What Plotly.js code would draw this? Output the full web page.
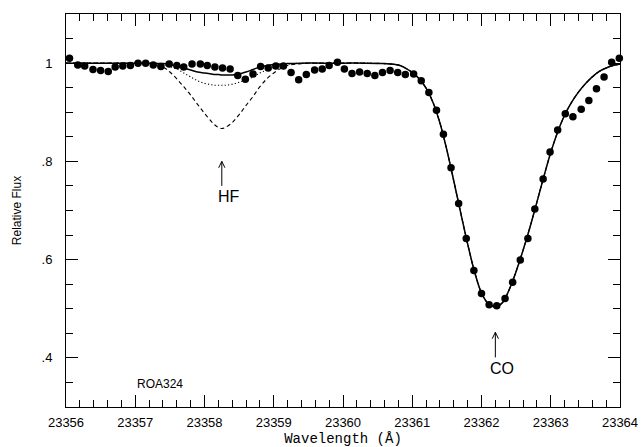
<!DOCTYPE html>
<html>
<head>
<meta charset="utf-8">
<script src="https://cdn.plot.ly/plotly-3.0.1.min.js"></script>
<style>html,body{margin:0;padding:0;background:#fff;}#chart{width:641px;height:447px;}</style>
</head>
<body>
<div id="chart"></div>
<script>
// Observed spectrum (dots)
const dotX = [23356.05, 23356.17, 23356.27, 23356.39, 23356.50, 23356.61, 23356.71, 23356.82, 23356.93, 23357.04,
  23357.15, 23357.26, 23357.37, 23357.49, 23357.60, 23357.70, 23357.82, 23357.94, 23358.04, 23358.15,
  23358.26, 23358.37, 23358.48, 23358.59, 23358.70, 23358.81, 23358.92, 23359.03, 23359.14, 23359.25,
  23359.36, 23359.47, 23359.59, 23359.70, 23359.80, 23359.92, 23360.02, 23360.13, 23360.24, 23360.35,
  23360.46, 23360.57, 23360.68, 23360.79, 23360.90, 23361.02, 23361.13, 23361.24, 23361.35, 23361.45,
  23361.56, 23361.67, 23361.78, 23361.89, 23362.00, 23362.11, 23362.22, 23362.34, 23362.45, 23362.56,
  23362.67, 23362.77, 23362.89, 23362.99, 23363.10, 23363.21, 23363.32, 23363.44, 23363.55, 23363.66,
  23363.77, 23363.88, 23363.99];
const dotY = [1.010, 0.996, 0.994, 0.987, 0.985, 0.983, 0.992, 0.994, 0.995, 1.000,
  1.000, 0.996, 0.993, 0.998, 0.995, 0.992, 0.998, 0.998, 0.995, 0.992,
  0.990, 0.988, 0.975, 0.967, 0.978, 0.993, 0.990, 0.994, 0.994, 0.981,
  0.966, 0.977, 0.986, 0.988, 0.995, 1.002, 0.988, 0.979, 0.982, 0.979,
  0.975, 0.981, 0.985, 0.981, 0.977, 0.978, 0.964, 0.940, 0.904, 0.855,
  0.787, 0.714, 0.643, 0.578, 0.531, 0.508, 0.506, 0.521, 0.554, 0.599,
  0.643, 0.703, 0.764, 0.819, 0.864, 0.897, 0.891, 0.906, 0.924, 0.948,
  0.972, 1.002, 1.010];

// Synthetic spectra, HF region (three HF abundances)
const hfX = [23356.0, 23356.5, 23357.0, 23357.2, 23357.4, 23357.5, 23357.6, 23357.7, 23357.8, 23357.9,
  23358.0, 23358.1, 23358.15, 23358.2, 23358.25, 23358.3, 23358.4, 23358.5, 23358.6, 23358.7,
  23358.8, 23358.9, 23359.0, 23359.1, 23359.2, 23359.4, 23359.7, 23360.0, 23360.3];
const hfSolid  = [1.000, 1.000, 1.000, 1.000, 0.999, 0.997, 0.994, 0.990, 0.986, 0.982,
  0.980, 0.978, 0.977, 0.977, 0.976, 0.976, 0.976, 0.978, 0.982, 0.987,
  0.992, 0.995, 0.997, 0.998, 0.999, 1.000, 1.000, 1.000, 1.000];
const hfDotted = [1.000, 1.000, 1.000, 0.999, 0.997, 0.993, 0.988, 0.980, 0.972, 0.964,
  0.959, 0.956, 0.955, 0.955, 0.955, 0.955, 0.957, 0.961, 0.966, 0.972,
  0.980, 0.986, 0.991, 0.995, 0.998, 1.000, 1.000, 1.000, 1.000];
const hfDashed = [1.000, 1.000, 1.000, 0.999, 0.992, 0.982, 0.968, 0.952, 0.935, 0.916,
  0.898, 0.881, 0.874, 0.869, 0.867, 0.869, 0.879, 0.895, 0.914, 0.932,
  0.952, 0.968, 0.980, 0.989, 0.995, 0.999, 1.000, 1.000, 1.000];

// Synthetic spectrum, CO region (shared by all three)
const coX = [23360.6, 23360.8, 23360.9, 23361.0, 23361.1, 23361.2, 23361.3, 23361.4, 23361.5, 23361.6,
  23361.7, 23361.8, 23361.9, 23362.0, 23362.1, 23362.2, 23362.3, 23362.4, 23362.5, 23362.6,
  23362.7, 23362.8, 23362.9, 23363.0, 23363.1, 23363.2, 23363.3, 23363.4, 23363.5, 23363.6,
  23363.7, 23363.8, 23363.9, 23364.0];
const coLine = [0.999, 0.996, 0.990, 0.981, 0.968, 0.949, 0.920, 0.878, 0.823, 0.760,
  0.695, 0.632, 0.575, 0.532, 0.510, 0.504, 0.512, 0.539, 0.576, 0.619,
  0.666, 0.717, 0.769, 0.818, 0.860, 0.894, 0.920, 0.941, 0.958, 0.972,
  0.983, 0.990, 0.995, 0.998];

// Line identifications
const idNames = ['HF', 'CO'];
const idX = [23358.25, 23362.2];
const idTip = [0.800, 0.452];
const idBase = [0.750, 0.401];
const idTextY = [0.729, 0.379];

const xTicks = [23356, 23357, 23358, 23359, 23360, 23361, 23362, 23363, 23364];
const yTickVals = [0.4, 0.6, 0.8, 1.0];
const yTickText = ['.4', '.6', '.8', '1'];

const font = 'Liberation Sans, Arial, sans-serif';
const mx = hfX.concat(coX);
function synth(arr, dash, w) {
  return {x: mx, y: arr.concat(coLine), mode: 'lines', type: 'scatter',
    line: {color: '#000', width: w, dash: dash, shape: 'spline', smoothing: 1}, hoverinfo: 'skip', showlegend: false};
}
const traces = [
  synth(hfDashed, '4px,3px', 1.1),
  synth(hfDotted, '1.2px,2.2px', 1.1),
  synth(hfSolid, 'solid', 1.5),
  {x: dotX, y: dotY, mode: 'markers', type: 'scatter', cliponaxis: false,
   marker: {color: '#000', size: 7.5}, showlegend: false}
];

const shapes = [];
const annotations = [];
const dxHead = 0.045, dyHead = 0.013;
idNames.forEach((n, i) => {
  shapes.push({type: 'line', xref: 'x', yref: 'y', x0: idX[i], x1: idX[i], y0: idBase[i], y1: idTip[i],
    line: {color: '#000', width: 1}});
  shapes.push({type: 'path', xref: 'x', yref: 'y',
    path: `M ${idX[i]-dxHead},${idTip[i]-dyHead} L ${idX[i]},${idTip[i]} L ${idX[i]+dxHead},${idTip[i]-dyHead}`,
    line: {color: '#000', width: 1}});
  annotations.push({x: idX[i], y: idTextY[i], xref: 'x', yref: 'y', text: n, showarrow: false,
    xshift: 7, font: {family: font, size: 16, color: '#000'}});
});
annotations.push({x: 23357.36, y: 0.347, xref: 'x', yref: 'y', text: 'ROA324', showarrow: false,
  font: {family: font, size: 12, color: '#000'}});

const layout = {
  width: 641, height: 447,
  margin: {l: 66, r: 21, t: 14, b: 40},
  paper_bgcolor: '#fff', plot_bgcolor: '#fff',
  showlegend: false,
  font: {family: font, color: '#000'},
  xaxis: {
    range: [23356, 23364], tickvals: xTicks, tickformat: 'd',
    ticks: 'inside', ticklen: 12, tickwidth: 1, tickcolor: '#000',
    showline: true, linecolor: '#000', linewidth: 1, mirror: 'ticks',
    showgrid: false, zeroline: false,
    tickfont: {family: font, size: 13, color: '#000'}, ticklabelstandoff: 3,
    minor: {dtick: 0.2, tick0: 23356, ticks: 'inside', ticklen: 7, tickwidth: 1, tickcolor: '#000', showgrid: false},
    title: {text: 'Wavelength (Å)', font: {family: 'Liberation Mono, DejaVu Sans Mono, monospace', size: 14, color: '#000'}, standoff: 6}
  },
  yaxis: {
    range: [0.3, 1.1], tickvals: yTickVals, ticktext: yTickText,
    ticks: 'inside', ticklen: 12, tickwidth: 1, tickcolor: '#000',
    showline: true, linecolor: '#000', linewidth: 1, mirror: 'ticks',
    showgrid: false, zeroline: false,
    tickfont: {family: font, size: 13, color: '#000'}, ticklabelstandoff: 10,
    minor: {dtick: 0.05, tick0: 0, ticks: 'inside', ticklen: 7, tickwidth: 1, tickcolor: '#000', showgrid: false},
    title: {text: 'Relative Flux', font: {family: font, size: 12, color: '#000'}, standoff: 17}
  },
  shapes: shapes,
  annotations: annotations
};
Plotly.newPlot('chart', traces, layout, {staticPlot: true, displayModeBar: false});
</script>
</body>
</html>
